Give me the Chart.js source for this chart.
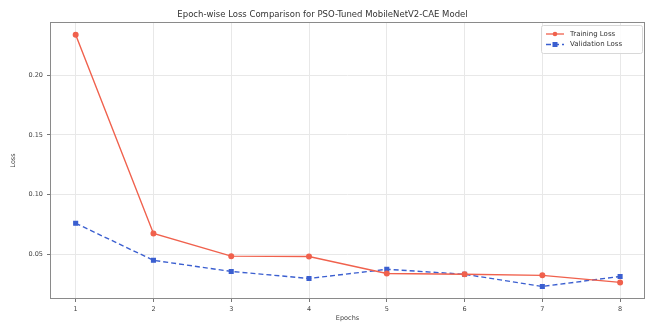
<!DOCTYPE html>
<html>
<head>
<meta charset="utf-8">
<script src="https://cdn.jsdelivr.net/npm/chart.js@4.4.1/dist/chart.umd.min.js"></script>
<style>
html,body{margin:0;padding:0;background:#fff;}
#wrap{width:647px;height:322px;position:relative;}
</style>
</head>
<body>
<div id="wrap"><canvas id="c" width="647" height="322"></canvas></div>
<script>
const epochs = [1, 2, 3, 4, 5, 6, 7, 8];
const trainingLoss = [0.234, 0.0675, 0.0485, 0.0482, 0.0340, 0.0333, 0.0324, 0.0265];
const validationLoss = [0.076, 0.0450, 0.0357, 0.0298, 0.0375, 0.0333, 0.0231, 0.0315];
const yTicks = [0.05, 0.10, 0.15, 0.20];
const titleText = 'Epoch-wise Loss Comparison for PSO-Tuned MobileNetV2-CAE Model';
const seriesNames = ['Training Loss', 'Validation Loss'];

const RED = '#f0614d';
const BLUE = '#3b5fd0';
const FONT = 'DejaVu Sans';

const frameAndLegend = {
  id: 'frameAndLegend',
  afterDraw(chart) {
    const ctx = chart.ctx;
    const a = chart.chartArea;
    ctx.save();
    ctx.strokeStyle = '#8a8a8a';
    ctx.lineWidth = 1;
    ctx.strokeRect(Math.round(a.left) + 0.5, Math.round(a.top) + 0.5, Math.round(a.right - a.left) - 1, Math.round(a.bottom - a.top) - 1);
    // legend
    const bx = a.right - 104, by = a.top + 3, bw = 101, bh = 28;
    ctx.fillStyle = 'rgba(255,255,255,0.85)';
    ctx.strokeStyle = '#d8d8d8';
    ctx.beginPath();
    ctx.roundRect(bx + 0.5, by + 0.5, bw, bh, 2);
    ctx.fill();
    ctx.stroke();
    chart.data.datasets.forEach((ds, i) => {
      const cy = by + 9 + i * 10.5;
      const lx0 = bx + 5, lx1 = bx + 23;
      ctx.strokeStyle = ds.borderColor;
      ctx.lineWidth = 1.3;
      ctx.setLineDash(ds.borderDash || []);
      ctx.beginPath(); ctx.moveTo(lx0, cy); ctx.lineTo(lx1, cy); ctx.stroke();
      ctx.setLineDash([]);
      ctx.fillStyle = ds.pointBackgroundColor;
      const mx = (lx0 + lx1) / 2;
      if (ds.pointStyle === 'rect') ctx.fillRect(mx - 2.5, cy - 2.5, 5, 5);
      else { ctx.beginPath(); ctx.arc(mx, cy, 2.3, 0, Math.PI * 2); ctx.fill(); }
      ctx.fillStyle = '#333';
      ctx.font = '7px "' + FONT + '"';
      ctx.textBaseline = 'middle';
      ctx.textAlign = 'left';
      ctx.fillText(ds.label, bx + 29, cy);
    });
    ctx.restore();
  }
};

new Chart(document.getElementById('c'), {
  type: 'line',
  data: {
    labels: epochs,
    datasets: [
      {
        label: seriesNames[0],
        data: epochs.map((e, i) => ({x: e, y: trainingLoss[i]})),
        borderColor: RED,
        backgroundColor: RED,
        pointBackgroundColor: RED,
        pointBorderColor: RED,
        pointStyle: 'circle',
        pointRadius: 2.3,
        borderWidth: 1.4,
        tension: 0,
        fill: false
      },
      {
        label: seriesNames[1],
        data: epochs.map((e, i) => ({x: e, y: validationLoss[i]})),
        borderColor: BLUE,
        backgroundColor: BLUE,
        pointBackgroundColor: BLUE,
        pointBorderColor: BLUE,
        pointStyle: 'rect',
        pointRadius: 2.6,
        borderWidth: 1.4,
        borderDash: [5, 3],
        tension: 0,
        fill: false
      }
    ]
  },
  options: {
    responsive: false,
    animation: false,
    devicePixelRatio: 1,
    layout: {autoPadding: false, padding: {left: 0, right: 2, top: 0, bottom: 0}},
    plugins: {
      legend: {display: false},
      tooltip: {enabled: false},
      title: {
        display: true,
        text: titleText,
        color: '#333',
        font: {family: FONT, size: 8.5, weight: 'normal'},
        padding: {top: 10, bottom: 1.8}
      }
    },
    scales: {
      x: {
        type: 'linear',
        min: 0.67,
        max: 8.32,
        afterBuildTicks(scale) { scale.ticks = epochs.map(v => ({value: v})); },
        afterFit(scale) { scale.height = 23; scale.paddingLeft = 0; scale.paddingRight = 0; },
        ticks: {
          color: '#444',
          font: {family: FONT, size: 6.5},
          padding: 3,
          maxRotation: 0,
          callback: v => String(v)
        },
        grid: {color: '#e8e8e8', lineWidth: 1, tickLength: 3, tickColor: '#777', drawTicks: true},
        border: {display: false},
        title: {
          display: true,
          text: 'Epochs',
          color: '#444',
          font: {family: FONT, size: 6.5},
          padding: {top: 0, bottom: 0}
        }
      },
      y: {
        type: 'linear',
        min: 0.0126,
        max: 0.2446,
        afterBuildTicks(scale) { scale.ticks = yTicks.map(v => ({value: v})); },
        afterFit(scale) { scale.width = 50; scale.paddingTop = 0; scale.paddingBottom = 0; },
        ticks: {
          color: '#444',
          font: {family: FONT, size: 6.5},
          padding: 4,
          callback: v => Number(v).toFixed(2)
        },
        grid: {color: '#e8e8e8', lineWidth: 1, tickLength: 3, tickColor: '#777', drawTicks: true},
        border: {display: false},
        title: {
          display: true,
          text: 'Loss',
          color: '#444',
          font: {family: FONT, size: 6.5},
          padding: {top: 9, bottom: 0}
        }
      }
    }
  },
  plugins: [frameAndLegend]
});
</script>
</body>
</html>
